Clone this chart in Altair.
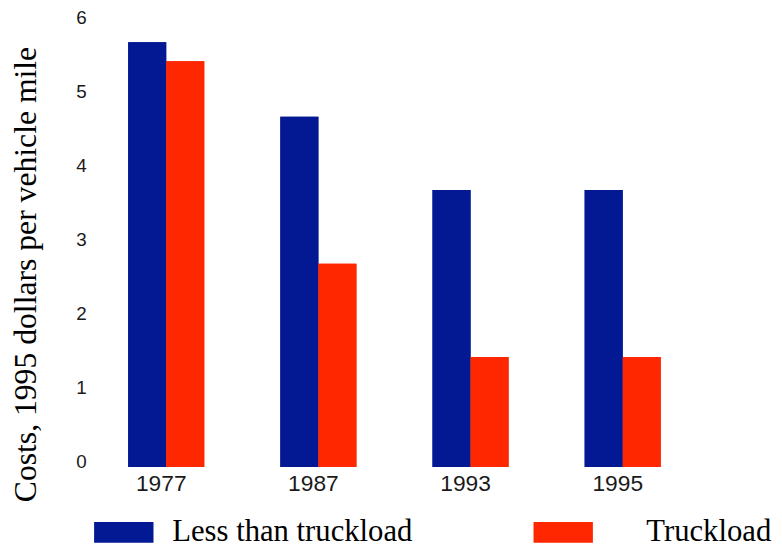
import altair as alt
import pandas as pd

years = ["1977", "1987", "1993", "1995"]
series = ["Less than truckload", "Truckload"]
less_than_truckload = [5.75, 4.74, 3.75, 3.75]
truckload = [5.49, 2.75, 1.49, 1.49]
colors = ["#031993", "#FF2700"]

rows = []
for i, y in enumerate(years):
    rows.append({"year": y, "series": series[0], "cost": less_than_truckload[i]})
    rows.append({"year": y, "series": series[1], "cost": truckload[i]})
df = pd.DataFrame(rows)

rect_symbol = "M-1,-0.35L1,-0.35L1,0.35L-1,0.35Z"


def bars(legend_value, legend_x, label_offset):
    return alt.Chart(df).mark_bar(strokeWidth=0).encode(
        x=alt.X(
            "year:N",
            sort=years,
            scale=alt.Scale(paddingInner=0.5, paddingOuter=0.25),
            axis=alt.Axis(
                title=None,
                labelAngle=0,
                labelFont="Liberation Sans",
                labelFontSize=23,
                labelColor="#1a1a1a",
                labelPadding=6,
                labelOffset=-5,
                ticks=False,
                tickSize=0,
                domain=False,
                grid=False,
            ),
        ),
        xOffset=alt.XOffset(
            "series:N", sort=series, scale=alt.Scale(paddingInner=0, paddingOuter=0)
        ),
        y=alt.Y(
            "cost:Q",
            scale=alt.Scale(domain=[0, 6], nice=False),
            axis=alt.Axis(
                title="Costs, 1995 dollars per vehicle mile",
                titleFont="Liberation Serif",
                titleFontSize=32,
                titleFontWeight="normal",
                titleColor="#000000",
                titleAngle=270,
                titleAlign="center",
                titleBaseline="alphabetic",
                titleX=-55,
                titleY=253,
                values=[0, 1, 2, 3, 4, 5, 6],
                format="d",
                labelFont="Liberation Sans",
                labelFontSize=19,
                labelColor="#1a1a1a",
                labelPadding=4,
                labelOffset=-6,
                ticks=False,
                tickSize=0,
                domain=False,
                grid=False,
            ),
        ),
        color=alt.Color(
            "series:N",
            scale=alt.Scale(domain=series, range=colors),
            legend=alt.Legend(
                title=None,
                orient="none",
                legendX=legend_x,
                legendY=484,
                direction="horizontal",
                values=[legend_value],
                symbolType=rect_symbol,
                symbolSize=3600,
                symbolStrokeWidth=0,
                symbolOpacity=1,
                labelFont="Liberation Serif",
                labelFontSize=31,
                labelColor="#000000",
                labelOffset=label_offset,
                labelLimit=0,
            ),
        ),
    )


chart = (
    alt.layer(
        bars(series[0], 4, 19),
        bars(series[1], 448, 54),
    )
    .resolve_scale(color="independent")
    .properties(
        width=615,
        height=448,
        background="#ffffff",
        autosize=alt.AutoSizeParams(type="none"),
        padding={"left": 83, "top": 13, "right": 76, "bottom": 79},
    )
    .configure_view(stroke=None, strokeWidth=0)
    .configure_legend(labelFont="Liberation Serif", labelColor="#000000")
)

chart.save("out.html", embed_options={"renderer": "svg", "actions": False})
